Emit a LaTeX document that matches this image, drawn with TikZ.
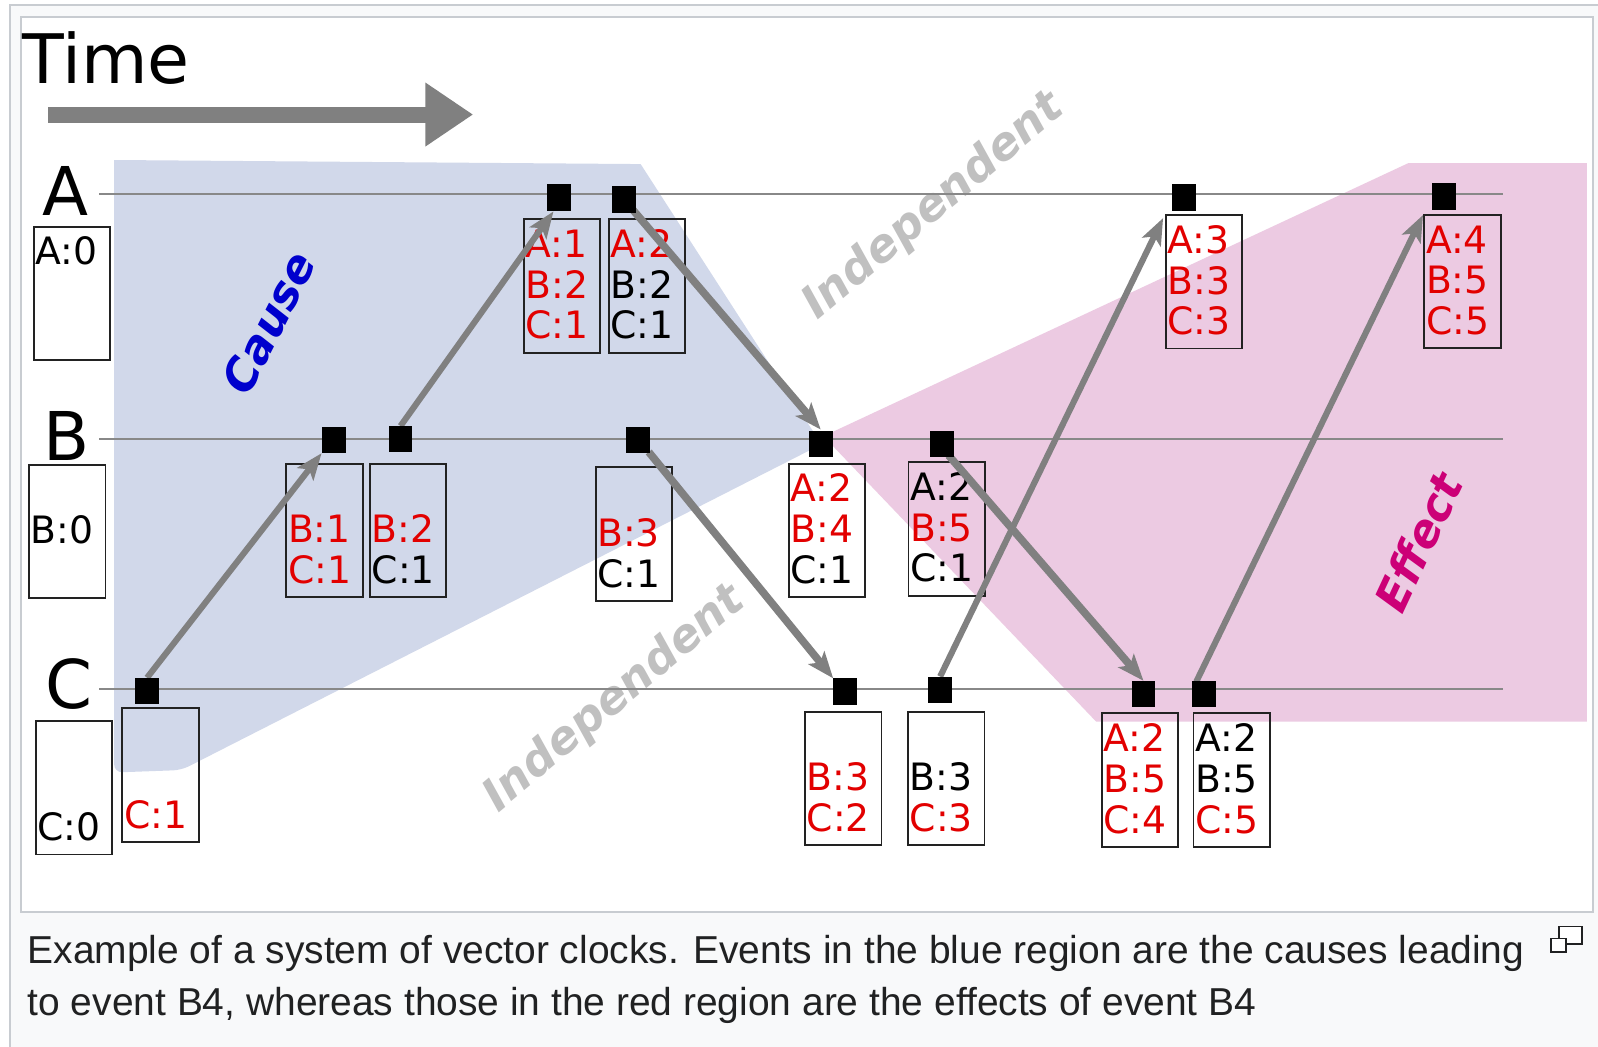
\documentclass[tikz,border=0pt]{standalone}
\usepackage{fontspec}
\setmainfont{DejaVu Sans}
\newfontfamily\capfont{Liberation Sans}
\usetikzlibrary{arrows.meta,calc}
\definecolor{clkred}{RGB}{226,0,0}
\definecolor{causeblue}{RGB}{0,0,205}
\definecolor{effectmag}{RGB}{204,0,119}
\definecolor{indgray}{RGB}{192,192,192}
\definecolor{causefill}{RGB}{209,216,234}
\definecolor{effectfill}{RGB}{236,202,226}
\definecolor{arrgray}{RGB}{128,128,128}
\definecolor{linegray}{RGB}{136,136,136}
\definecolor{boxline}{RGB}{34,34,34}
\definecolor{frameborder}{RGB}{200,204,209}
\definecolor{framebg}{RGB}{248,249,250}
\definecolor{captext}{RGB}{32,33,34}
\newcommand\rd[1]{\textcolor{clkred}{#1}}
\tikzset{
  clockbox/.style={draw=boxline, line width=1.8pt, minimum width=75pt, minimum height=131pt, inner sep=0pt, outer sep=0pt, anchor=north west},
  vtxt/.style={inner sep=0pt, anchor=base west, font=\fontsize{37}{40}\selectfont},
  evsq/.style={fill=black, draw=none, minimum width=23.5pt, minimum height=26pt, inner sep=0pt, outer sep=0pt},
  proc/.style={draw=linegray, line width=2.2pt},
  msg/.style={draw=arrgray, line width=6pt, -{Stealth[length=26pt,width=20pt,inset=6pt]}},
  msgthick/.style={msg, line width=7.5pt},
  lbl/.style={inner sep=0pt, anchor=base, font=\fontsize{66}{70}\selectfont},
  regtxt/.style={inner sep=0pt, font=\fontsize{44}{48}\selectfont\bfseries\itshape},
  indtxt/.style={inner sep=0pt, text=indgray, rotate=40, font=\fontsize{44.5}{47}\selectfont\bfseries\itshape},
  captxt/.style={inner sep=0pt, anchor=base west, text=captext, font=\capfont\fontsize{38.2}{40}\selectfont},
}
\newcommand\vcbox[6]{%
  \node[clockbox] (#1) at (#2,#3) {};
  \node[vtxt] (#1r1) at ($(#1.north west)+(1.5,37.5)$) {#4};
  \node[vtxt] (#1r2) at ($(#1.north west)+(1.5,77.5)$) {#5};
  \node[vtxt] (#1r3) at ($(#1.north west)+(1.5,117.5)$) {#6};
}
\begin{document}
\begin{tikzpicture}[x=1pt,y=-1pt]
\useasboundingbox (0,0) rectangle (1568,1027);
\clip (0,0) rectangle (1568,1027);
\fill[white] (0,0) rectangle (1568,1027);
% frames
\draw[frameborder, fill=framebg, line width=2pt] (10,4.9) rectangle (1600,1060);
\draw[frameborder, fill=white, line width=2pt] (21,16.4) rectangle (1563,894.6);
% regions
\fill[causefill] (112,157) -- (628.6,161) -- (806,436) [rounded corners=8pt]-- (178,755.6) -- (112,758) [sharp corners]-- cycle;
\fill[effectfill] (808,428) -- (1382,160) -- (1557,160) -- (1557,708) -- (1075.5,708) -- cycle;
% independent labels
\node[indtxt] (ind1) at (916,203) {Independent};
\node[indtxt] (ind2) at (603,686) {Independent};
% process lines
\coordinate (la0) at (97.3,190.7); \coordinate (la1) at (1474.6,190.7);
\coordinate (lb0) at (97.3,431.1); \coordinate (lb1) at (1474.6,431.1);
\coordinate (lc0) at (97.3,676.4); \coordinate (lc1) at (1474.6,676.4);
\draw[proc] (la0) -- (la1);
\draw[proc] (lb0) -- (lb1);
\draw[proc] (lc0) -- (lc1);
% clock boxes
\vcbox{bA0}{33}{222.4}{A:0}{}{}
\vcbox{bB0}{28.5}{456}{}{B:0}{}
\vcbox{bC0}{35}{707.5}{}{}{C:0}
\vcbox{bA1}{514}{215}{\rd{A:1}}{\rd{B:2}}{\rd{C:1}}
\vcbox{bA2}{597.5}{215}{\rd{A:2}}{B:2}{C:1}
\vcbox{bA3}{1144}{211}{\rd{A:3}}{\rd{B:3}}{\rd{C:3}}
\vcbox{bA4}{1397.6}{210.8}{\rd{A:4}}{\rd{B:5}}{\rd{C:5}}
\vcbox{bB1}{281}{455}{}{\rd{B:1}}{\rd{C:1}}
\vcbox{bB2}{363}{455}{}{\rd{B:2}}{C:1}
\vcbox{bB3}{584.5}{458.5}{}{\rd{B:3}}{C:1}
\vcbox{bB4}{774}{455}{\rd{A:2}}{\rd{B:4}}{C:1}
\vcbox{bB5}{891.5}{453.5}{A:2}{\rd{B:5}}{C:1}
\vcbox{bC1}{120}{695}{}{}{\rd{C:1}}
\vcbox{bC2}{790}{698.5}{}{\rd{B:3}}{\rd{C:2}}
\vcbox{bC3}{891}{698.5}{}{B:3}{\rd{C:3}}
\vcbox{bC4}{1081}{700}{\rd{A:2}}{\rd{B:5}}{\rd{C:4}}
\vcbox{bC5}{1171}{700}{A:2}{B:5}{\rd{C:5}}
% events
\node[evsq] (sA1) at (548.3,194) {};
\node[evsq] (sA2) at (612.4,195.6) {};
\node[evsq] (sA3) at (1162,194) {};
\node[evsq] (sA4) at (1417,193) {};
\node[evsq] (sB1) at (327.3,431.7) {};
\node[evsq] (sB2) at (393,431) {};
\node[evsq] (sB3) at (625.8,431.5) {};
\node[evsq] (sB4) at (805.3,435.5) {};
\node[evsq] (sB5) at (924,435.8) {};
\node[evsq] (sC1) at (144.3,678) {};
\node[evsq] (sC2) at (829.3,678.6) {};
\node[evsq] (sC3) at (922.5,676.8) {};
\node[evsq] (sC4) at (1122,681) {};
\node[evsq] (sC5) at (1181.5,681) {};
% messages
\draw[msg] (sC1.north) -- (sB1.south west);
\draw[msg] (sB2.north) -- ($(sA1.south west)+(6.5,0.5)$);
\draw[msgthick] ($(sA2.south east)+(-3,-2.5)$) -- ($(sB4.north)+(0,-1)$);
\draw[msgthick] ($(sB3.south east)+(-1,-1)$) -- (sC2.north west);
\draw[msg] (sC3.north) -- ($(sA3.south west)+(-9,7)$);
\draw[msgthick] ($(sB5.south east)+(-5,-2)$) -- (sC4.north);
\draw[msg] ($(sC5.north west)+(4,1)$) -- ($(sA4.south west)+(-9,5)$);
% redraw event squares on top
\foreach \s in {sA1,sA2,sA3,sA4,sB1,sB2,sB3,sB4,sB5,sC1,sC2,sC3,sC4,sC5}{\fill[black] (\s.south west) rectangle (\s.north east);}
% time arrow and labels
\node[inner sep=0pt, anchor=base west, font=\fontsize{67}{70}\selectfont] (time) at (22,82.4) {Time};
\coordinate (t0) at (47.3,112.4); \coordinate (t1) at (464.3,112.4);
\draw[arrgray, line width=15.7pt, -{Triangle[length=47pt,width=59.5pt]}] (t0) -- (t1);
\node[lbl] (labA) at (63.8,211) {A};
\node[lbl] (labB) at (65.8,452) {B};
\node[lbl] (labC) at (67.5,695) {C};
\node[regtxt, text=causeblue, rotate=63] (cause) at (263.3,316.5) {Cause};
\node[regtxt, text=effectmag, rotate=65] (effect) at (1392,531.7) {Effect};
% caption
\node[captxt] (cap1) at (27,945) {Example of a system of vector clocks. Events in the blue region are the causes leading};
\node[captxt] (cap2) at (27,996) {to event B4, whereas those in the red region are the effects of event B4};
\draw[captext, line width=1.6pt, fill=white] (1530,909) rectangle (1552.5,926);
\draw[captext, line width=1.6pt, fill=white] (1522,921) rectangle (1536.5,934);
\end{tikzpicture}
\end{document}
